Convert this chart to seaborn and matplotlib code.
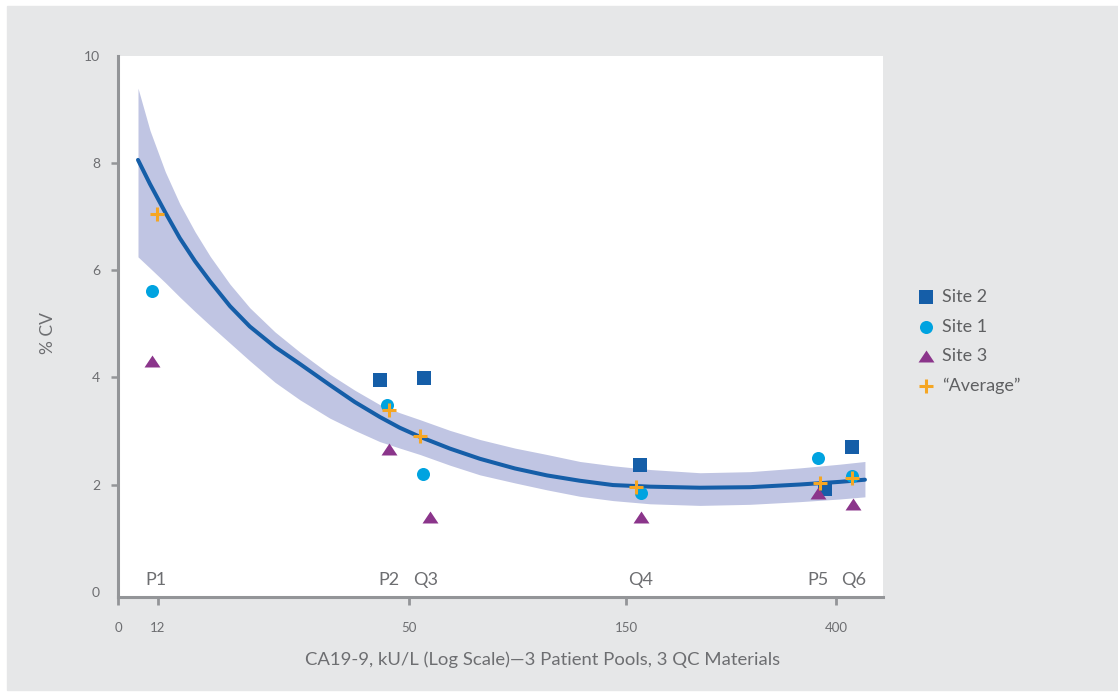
import numpy as np
import pandas as pd
import seaborn as sns
import matplotlib.pyplot as plt
from matplotlib.patches import Rectangle

# pool names and where their labels sit along the x axis (kU/L)
pools = ["P1", "P2", "Q3", "Q4", "P5", "Q6"]
pool_label_x = [11.4, 47, 57.8, 168, 379, 421]

# %CV per site (x slightly offset per site, as on the chart)
site2_x = [12, 45.6, 56.9, 166.7, 387, 419]
site2_cv = [np.nan, 3.96, 3.98, 2.37, 1.92, 2.70]  # P1 value is off the chart
site1_x = [10.1, 46.6, 56.3, 167.5, 379, 419.5]
site1_cv = [5.62, 3.49, 2.20, 1.84, 2.49, 2.15]
site3_x = [10.2, 46.9, 59.8, 167.5, 379, 420.6]
site3_cv = [4.31, 2.67, 1.40, 1.40, 1.84, 1.64]
avg_x = [11.7, 46.9, 55.1, 161.9, 381, 419]
avg_cv = [7.05, 3.40, 2.91, 1.96, 2.03, 2.12]

# fitted curve + confidence band
fit_x = [6, 9.6, 13.1, 15.3, 17.6, 19.9, 22.9, 25.9, 29.7, 33.5, 38, 41.8, 45.6, 48.6,
         55.1, 68.9, 82.7, 98.8, 113.6, 128.8, 144, 178.6, 238, 297.6, 357, 404.8, 434.5]
fit_cv = [8.06, 7.61, 7.08, 6.60, 6.17, 5.79, 5.33, 4.95, 4.57, 4.25, 3.86, 3.54, 3.26, 3.06,
          2.89, 2.67, 2.48, 2.30, 2.17, 2.07, 1.99, 1.96, 1.94, 1.95, 2.00, 2.05, 2.09]
fit_lo = [6.25, 6.04, 5.77, 5.50, 5.23, 4.97, 4.64, 4.31, 3.91, 3.58, 3.24, 3.01, 2.80, 2.68,
          2.56, 2.36, 2.18, 2.03, 1.90, 1.78, 1.70, 1.64, 1.61, 1.63, 1.68, 1.73, 1.77]
fit_hi = [9.40, 8.61, 7.84, 7.24, 6.72, 6.26, 5.74, 5.30, 4.85, 4.47, 4.06, 3.76, 3.49, 3.34,
          3.21, 3.01, 2.84, 2.68, 2.56, 2.43, 2.35, 2.28, 2.22, 2.24, 2.31, 2.38, 2.43]

x_ticks = [0, 12, 50, 150, 400]
y_ticks = [0, 2, 4, 6, 8, 10]

# the "log scale" axis on the chart is drawn by hand, so use its tick spacing
axis_vals = [0, 12, 50, 150, 400, 600]
axis_pos = [0, 40, 291, 508, 718, 886]

def fwd(v):
    return np.interp(v, axis_vals, axis_pos)

def inv(p):
    return np.interp(p, axis_pos, axis_vals)

grey_txt = "#6d6e71"
grey_line = "#939598"

sns.set_style("ticks")
plt.rcParams["font.family"] = ["Lato", "DejaVu Sans"]

fig = plt.figure(figsize=(11.18, 6.94), dpi=100, facecolor="white")
fig.patches.append(Rectangle((7 / 1118, 1 - 690 / 694), 1, 684 / 694,
                             transform=fig.transFigure, color="#e6e7e8", zorder=-10))
ax = fig.add_axes([118 / 1118, 1 - 597 / 694, 765 / 1118, 541 / 694])
ax.set_facecolor("white")
ax.set_xscale("function", functions=(fwd, inv))

# confidence band and fit line
ax.fill_between(fit_x, fit_lo, fit_hi, color="#c0c5e3", lw=0, zorder=1)
sns.lineplot(x=fit_x, y=fit_cv, color="#155ea8", linewidth=2.9, sort=False, ax=ax, zorder=2)

tri = [(-1, -0.75), (1, -0.75), (0, 0.75)]
sns.scatterplot(x=site2_x, y=site2_cv, marker="s", s=92, color="#155ea8", linewidth=0,
                label="Site 2", ax=ax, zorder=3)
sns.scatterplot(x=site1_x, y=site1_cv, marker="o", s=88, color="#00a3e0", linewidth=0,
                label="Site 1", ax=ax, zorder=3)
sns.scatterplot(x=site3_x, y=site3_cv, marker=tri, s=132, color="#8b358b", linewidth=0,
                label="Site 3", ax=ax, zorder=3)
sns.scatterplot(x=avg_x, y=avg_cv, marker="+", s=88, color="#f5a623", linewidth=2.2,
                label="\u201cAverage\u201d", ax=ax, zorder=4)

for name, x in zip(pools, pool_label_x):
    ax.text(x, 0.22, name, ha="center", va="center", fontsize=13, color=grey_txt)

ax.set_xlim(0, 456)
ax.set_ylim(-0.1, 10)
ax.set_xticks(x_ticks)
ax.set_xticklabels([str(t) for t in x_ticks])
ax.set_yticks(y_ticks)
ax.set_yticklabels([str(t) for t in y_ticks])
ax.minorticks_off()

sns.despine(ax=ax)
for side in ["left", "bottom"]:
    ax.spines[side].set_color(grey_line)
    ax.spines[side].set_linewidth(2.2)
ax.tick_params(axis="y", length=5, width=1.8, color=grey_line, labelcolor=grey_txt,
               labelsize=10, pad=8)
ax.tick_params(axis="x", length=6, width=2, color=grey_line, labelcolor=grey_txt,
               labelsize=9.5, pad=12)
# no tick marks at 0 and 10 on the y axis
yt = ax.yaxis.get_major_ticks()
yt[0].tick1line.set_visible(False)
yt[-1].tick1line.set_visible(False)

ax.set_xlabel("")
ax.set_ylabel("")
fig.text(48 / 1118, 1 - 333 / 694, "% CV", rotation=90, ha="center", va="center",
         fontsize=12.5, color=grey_txt)
fig.text(543 / 1118, 1 - 660 / 694,
         "CA19-9, kU/L (Log Scale)\u20143 Patient Pools, 3 QC Materials",
         ha="center", va="center", fontsize=13.3, color=grey_txt)

ax.legend(loc="center left", bbox_to_anchor=(917 / 1118, 1 - 341.5 / 694),
          bbox_transform=fig.transFigure, frameon=False, fontsize=13,
          handlelength=1.0, handletextpad=0.4, labelspacing=0.75,
          borderpad=0, borderaxespad=0, labelcolor="#5f6062")

fig.savefig("out.png", dpi=100)
